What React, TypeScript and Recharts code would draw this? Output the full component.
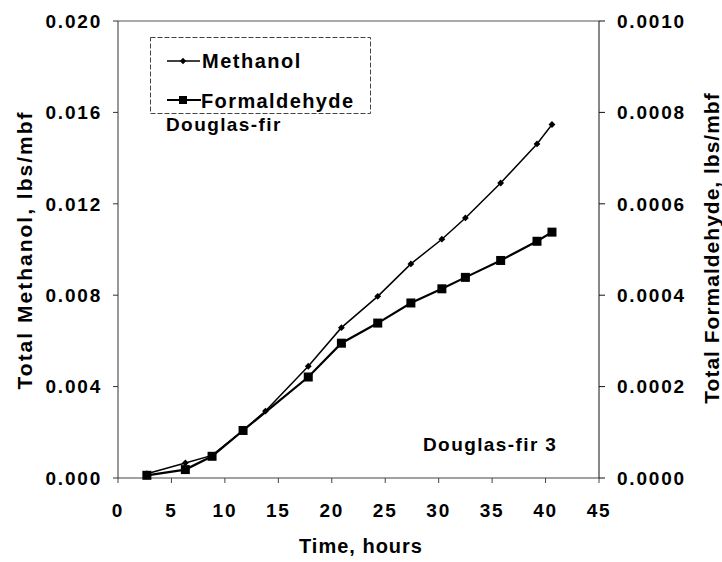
import { LineChart, Line, XAxis, YAxis, Legend, ReferenceLine } from 'recharts';

// Elapsed time (hours) for each sample
const methanolHours = [2.7, 6.3, 8.8, 11.7, 13.8, 17.8, 20.9, 24.3, 27.4, 30.3, 32.5, 35.8, 39.2, 40.6];
const methanolTotals = [0.00019, 0.00066, 0.00099, 0.00209, 0.00293, 0.00489, 0.00658, 0.00795, 0.00937, 0.01045, 0.01138, 0.01291, 0.01462, 0.01547];

const formaldehydeHours = [2.7, 6.3, 8.8, 11.7, 17.8, 20.9, 24.3, 27.4, 30.3, 32.5, 35.8, 39.2, 40.6];
const formaldehydeTotals = [0.0000059, 0.0000184, 0.0000475, 0.000104, 0.000221, 0.000295, 0.000339, 0.000383, 0.000414, 0.000439, 0.000476, 0.000518, 0.000538];

const timeTicks = [0, 5, 10, 15, 20, 25, 30, 35, 40, 45];
const methanolTicks = [0, 0.004, 0.008, 0.012, 0.016, 0.02];
const formaldehydeTicks = [0, 0.0002, 0.0004, 0.0006, 0.0008, 0.001];

const methanolData = methanolHours.map((t, i) => ({ t, v: methanolTotals[i] }));
const formaldehydeData = formaldehydeHours.map((t, i) => ({ t, v: formaldehydeTotals[i] }));

const FONT = '"Liberation Sans", Arial, Helvetica, sans-serif';
const tickStyle = { fontSize: 19, fontWeight: 'bold', fill: '#000', letterSpacing: 1.8 };

const Diamond = (props: any) => {
  const { cx, cy, index } = props;
  if (cx == null || cy == null) return <g key={`m-${index}`} />;
  return <path key={`m-${index}`} d={`M${cx},${cy - 3.4}L${cx + 3.4},${cy}L${cx},${cy + 3.4}L${cx - 3.4},${cy}Z`} fill="#000" />;
};

const Square = (props: any) => {
  const { cx, cy, index } = props;
  if (cx == null || cy == null) return <g key={`f-${index}`} />;
  return <rect key={`f-${index}`} x={cx - 4.5} y={cy - 4.5} width={9} height={9} fill="#000" />;
};

const LegendBox = () => (
  <svg width={221} height={77} style={{ display: 'block', fontFamily: FONT }}>
    <rect x={0.5} y={0.5} width={220} height={76} fill="#fff" stroke="#444" strokeDasharray="5 2" />
    <line x1={17} y1={24} x2={50} y2={24} stroke="#000" strokeWidth={1.5} />
    <path d="M33,20.8L36.2,24L33,27.2L29.8,24Z" fill="#000" />
    <text x={52} y={31} fontSize={20} fontWeight="bold" letterSpacing={1.5}>Methanol</text>
    <line x1={17} y1={63} x2={51} y2={63} stroke="#000" strokeWidth={2.2} />
    <rect x={29} y={59} width={8} height={8} fill="#000" />
    <text x={51} y={71} fontSize={20} fontWeight="bold" letterSpacing={1.4}>Formaldehyde</text>
  </svg>
);

export default function App() {
  return (
    <div style={{ position: 'absolute', left: 0, top: 0, width: 722, height: 562, overflow: 'hidden', fontFamily: FONT }}>
      <LineChart width={722} height={562} margin={{ top: 21, right: 0, bottom: 0, left: 0 }} style={{ fontFamily: FONT }}>
        <XAxis
          type="number"
          dataKey="t"
          domain={[0, 45]}
          ticks={timeTicks}
          height={84}
          tickSize={5}
          tickMargin={21}
          stroke="#444"
          tick={tickStyle}
          allowDuplicatedCategory={false}
        />
        <YAxis
          yAxisId="left"
          dataKey="v"
          domain={[0, 0.02]}
          ticks={methanolTicks}
          width={118}
          tickSize={5}
          tickMargin={11}
          stroke="#333"
          tick={tickStyle}
          tickFormatter={(v: number) => v.toFixed(3)}
        />
        <YAxis
          yAxisId="right"
          orientation="right"
          dataKey="v"
          domain={[0, 0.001]}
          ticks={formaldehydeTicks}
          width={123}
          tickSize={6}
          tickMargin={12}
          stroke="#111"
          tick={tickStyle}
          tickFormatter={(v: number) => v.toFixed(4)}
        />
        <ReferenceLine yAxisId="left" y={0.02} stroke="#555" />
        <Legend
          layout="horizontal"
          verticalAlign="middle"
          align="center"
          wrapperStyle={{ top: 37, left: 150, width: 221, height: 77 }}
          content={() => <LegendBox />}
        />
        <Line
          yAxisId="left"
          data={methanolData}
          dataKey="v"
          name="Methanol"
          type="linear"
          stroke="#000"
          strokeWidth={1.5}
          dot={Diamond}
          activeDot={false}
          isAnimationActive={false}
        />
        <Line
          yAxisId="right"
          data={formaldehydeData}
          dataKey="v"
          name="Formaldehyde"
          type="linear"
          stroke="#000"
          strokeWidth={2.2}
          dot={Square}
          activeDot={false}
          isAnimationActive={false}
        />
        <text x={166} y={131} fontSize={19} fontWeight="bold" letterSpacing={1.4}>Douglas-fir</text>
        <text x={423} y={451} fontSize={19} fontWeight="bold" letterSpacing={1.4}>Douglas-fir 3</text>
        <text x={361} y={553} fontSize={20} fontWeight="bold" letterSpacing={1} textAnchor="middle">Time, hours</text>
        <text
          transform="translate(24,250) rotate(-90)"
          fontSize={21}
          fontWeight="bold"
          letterSpacing={2}
          textAnchor="middle"
          dominantBaseline="central"
        >
          Total Methanol, lbs/mbf
        </text>
        <text
          transform="translate(711,248) rotate(-90)"
          fontSize={21}
          fontWeight="bold"
          letterSpacing={1}
          textAnchor="middle"
          dominantBaseline="central"
        >
          Total Formaldehyde, lbs/mbf
        </text>
      </LineChart>
    </div>
  );
}
